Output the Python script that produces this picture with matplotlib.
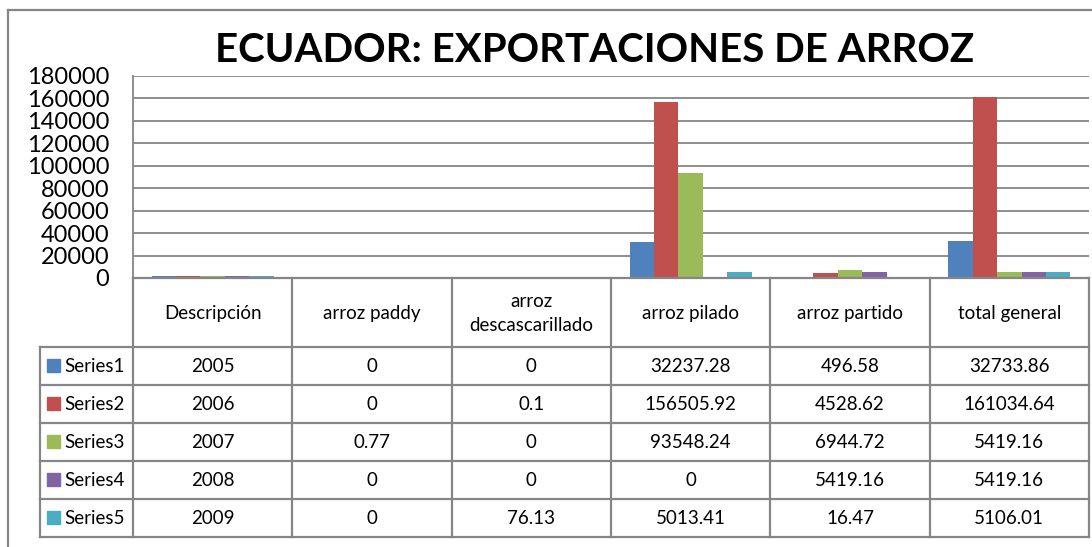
import numpy as np
import matplotlib
matplotlib.use("Agg")
import matplotlib.pyplot as plt
from matplotlib.patches import Rectangle

plt.rcParams['font.family'] = ['Lato', 'DejaVu Sans']

TITLE = "ECUADOR: EXPORTACIONES DE ARROZ"
CATEGORIES = ["Descripción", "arroz paddy", "arroz\ndescascarillado",
              "arroz pilado", "arroz partido", "total general"]
SERIES_NAMES = ["Series1", "Series2", "Series3", "Series4", "Series5"]
SERIES1 = [2005, 0, 0, 32237.28, 496.58, 32733.86]
SERIES2 = [2006, 0, 0.1, 156505.92, 4528.62, 161034.64]
SERIES3 = [2007, 0.77, 0, 93548.24, 6944.72, 5419.16]
SERIES4 = [2008, 0, 0, 0, 5419.16, 5419.16]
SERIES5 = [2009, 0, 76.13, 5013.41, 16.47, 5106.01]
COLORS = ["#4F81BD", "#C0504D", "#9BBB59", "#8064A2", "#4BACC6"]
Y_TICKS = list(range(0, 180001, 20000))

GRID = "#868686"
W, H = 1092, 547


def fmt(v):
    return str(int(v)) if float(v).is_integer() else str(v)


series = [SERIES1, SERIES2, SERIES3, SERIES4, SERIES5]

fig = plt.figure(figsize=(W / 100, H / 100), dpi=100)

# pixel layout of the plot area
L, R, TOP, BOT = 133, 1089, 76, 278
ax = fig.add_axes([L / W, 1 - BOT / H, (R - L) / W, (BOT - TOP) / H])
ncat = len(CATEGORIES)
x = np.arange(ncat)
bw = 0.153
for i, (vals, c) in enumerate(zip(series, COLORS)):
    ax.bar(x + (i - 2) * bw, vals, width=bw, color=c, zorder=3)

ax.set_xlim(-0.5, ncat - 0.5)
ax.set_ylim(0, 180000)
ax.set_yticks(Y_TICKS)
ax.set_yticklabels([str(t) for t in Y_TICKS], fontsize=17)
ax.set_xticks([])
ax.tick_params(axis="y", length=0, pad=17)
ax.yaxis.grid(True, color=GRID, linewidth=1.3, zorder=0)
for s in ["top", "right", "bottom"]:
    ax.spines[s].set_visible(False)
ax.spines["left"].set_color(GRID)
ax.spines["left"].set_linewidth(1.3)

# overlay in pixel coordinates for the data table and chart border
ov = fig.add_axes([0, 0, 1, 1], zorder=5)
ov.set_xlim(0, W)
ov.set_ylim(H, 0)
ov.axis("off")
ov.patch.set_alpha(0)

ov.plot([8, 8], [10, H], color=GRID, lw=1.6)
ov.plot([8, W], [10, 10], color=GRID, lw=1.6)

ov.text(595, 50, TITLE, ha="center", va="center", fontsize=29, fontweight="bold")

col_w = (R - L) / ncat
col_edges = [L + k * col_w for k in range(ncat + 1)]
head_bot = 347
row_h = 38
rows_bot = head_bot + row_h * len(series)
label_left = 40

lw = 1.6
ov.plot([L, R], [BOT, BOT], color=GRID, lw=lw)
for xe in col_edges:
    ov.plot([xe, xe], [BOT, rows_bot], color=GRID, lw=lw)
ov.plot([label_left, label_left], [head_bot, rows_bot], color=GRID, lw=lw)
for r in range(len(series) + 1):
    y = head_bot + r * row_h
    ov.plot([label_left, R], [y, y], color=GRID, lw=lw)

FS = 13.5
for k, cat in enumerate(CATEGORIES):
    ov.text(col_edges[k] + col_w / 2, (BOT + head_bot) / 2 + 1, cat,
            ha="center", va="center", fontsize=FS, linespacing=1.55)

for r, (name, vals, c) in enumerate(zip(SERIES_NAMES, series, COLORS)):
    yc = head_bot + r * row_h + row_h / 2
    ov.add_patch(Rectangle((47, yc - 7), 13, 13, color=c))
    ov.text(64, yc, name, ha="left", va="center", fontsize=FS)
    for k, v in enumerate(vals):
        ov.text(col_edges[k] + col_w / 2, yc + 1, fmt(v),
                ha="center", va="center", fontsize=FS)

fig.savefig("out.png", dpi=100)
